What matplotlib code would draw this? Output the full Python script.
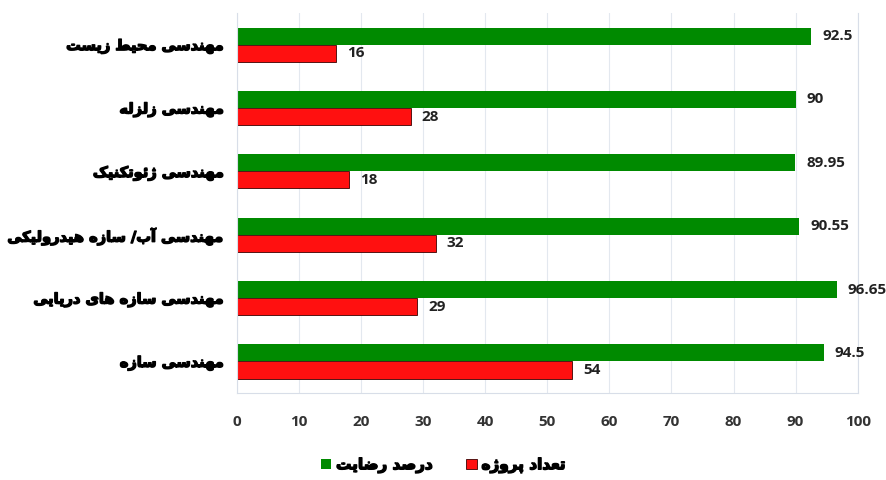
import numpy as np
import matplotlib
matplotlib.use("Agg")
import matplotlib.pyplot as plt
import matplotlib.patheffects as pe

# data (top to bottom, as in the picture)
categories = ["مهندسی محیط زیست", "مهندسی زلزله", "مهندسی ژئوتکنیک",
              "مهندسی آب/ سازه هیدرولیکی", "مهندسی سازه های دریایی", "مهندسی سازه"]
satisfaction = [92.5, 90, 89.95, 90.55, 96.65, 94.5]
projects = [16, 28, 18, 32, 29, 54]
series_names = ["درصد رضایت", "تعداد پروژه"]
x_ticks = list(range(0, 101, 10))

# Persian letters -> presentation forms (isolated, final, initial, medial)
FORMS = {
    "ا": ("\uFE8D", "\uFE8E", None, None),
    "آ": ("\uFE81", "\uFE82", None, None),
    "ب": ("\uFE8F", "\uFE90", "\uFE91", "\uFE92"),
    "پ": ("\uFB56", "\uFB57", "\uFB58", "\uFB59"),
    "ت": ("\uFE95", "\uFE96", "\uFE97", "\uFE98"),
    "ح": ("\uFEA1", "\uFEA2", "\uFEA3", "\uFEA4"),
    "د": ("\uFEA9", "\uFEAA", None, None),
    "ر": ("\uFEAD", "\uFEAE", None, None),
    "ز": ("\uFEAF", "\uFEB0", None, None),
    "ژ": ("\uFB8A", "\uFB8B", None, None),
    "س": ("\uFEB1", "\uFEB2", "\uFEB3", "\uFEB4"),
    "ص": ("\uFEB9", "\uFEBA", "\uFEBB", "\uFEBC"),
    "ض": ("\uFEBD", "\uFEBE", "\uFEBF", "\uFEC0"),
    "ط": ("\uFEC1", "\uFEC2", "\uFEC3", "\uFEC4"),
    "ع": ("\uFEC9", "\uFECA", "\uFECB", "\uFECC"),
    "ک": ("\uFB8E", "\uFB8F", "\uFB90", "\uFB91"),
    "ل": ("\uFEDD", "\uFEDE", "\uFEDF", "\uFEE0"),
    "م": ("\uFEE1", "\uFEE2", "\uFEE3", "\uFEE4"),
    "ن": ("\uFEE5", "\uFEE6", "\uFEE7", "\uFEE8"),
    "ه": ("\uFEE9", "\uFEEA", "\uFEEB", "\uFEEC"),
    "و": ("\uFEED", "\uFEEE", None, None),
    "ی": ("\uFBFC", "\uFBFD", "\uFBFE", "\uFBFF"),
    "ئ": ("\uFE89", "\uFE8A", "\uFE8B", "\uFE8C"),
}


def dual(c):
    return c in FORMS and FORMS[c][2] is not None


def shape(text):
    out = []
    for i, c in enumerate(text):
        if c not in FORMS:
            out.append(c)
            continue
        prev = text[i - 1] if i > 0 else ""
        nxt = text[i + 1] if i + 1 < len(text) else ""
        join_prev = dual(prev)
        join_next = dual(c) and nxt in FORMS
        iso, fin, ini, med = FORMS[c]
        if join_prev and join_next:
            out.append(med)
        elif join_prev:
            out.append(fin)
        elif join_next:
            out.append(ini)
        else:
            out.append(iso)
    return "".join(out)[::-1]


plt.rcParams["font.family"] = ["DejaVu Sans"]
heavy = [pe.withStroke(linewidth=1.0, foreground="black")]

fig = plt.figure(figsize=(8.86, 4.8), dpi=100)
ax = fig.add_axes([0.2675, 0.181, 0.7005, 0.792])

y = np.arange(len(categories))
h = 0.27
green = ax.barh(y - h / 2, satisfaction, height=h, color="#008a00", label=shape(series_names[0]))
red = ax.barh(y + h / 2, projects, height=h, color="#ff1010", edgecolor="#3a0000",
              linewidth=0.6, label=shape(series_names[1]))

num_font = dict(family="Open Sans", fontsize=11, fontweight="bold", color="#222222")
ax.bar_label(green, labels=[f"{v:g}" for v in satisfaction], padding=8, **num_font)
ax.bar_label(red, labels=[f"{v:g}" for v in projects], padding=8, **num_font)

ax.set_xlim(0, 100)
ax.set_ylim(len(categories) - 0.5, -0.5)
ax.set_xticks(x_ticks)
ax.set_xticklabels([str(t) for t in x_ticks], family="Open Sans", fontsize=11,
                   fontweight="bold", color="#333333")
ax.set_yticks(y)
ax.set_yticklabels([shape(c) for c in categories], fontsize=10.5, fontweight="bold", color="black")
for t in ax.get_yticklabels():
    t.set_path_effects(heavy)
ax.tick_params(length=0, axis="both")
ax.tick_params(axis="x", pad=16)
ax.tick_params(axis="y", pad=9)
ax.xaxis.grid(True, color="#e3e8ef", linewidth=0.8)
ax.set_axisbelow(True)
for s in ax.spines.values():
    s.set_color("#d8dee8")
    s.set_linewidth(0.8)
ax.spines["top"].set_visible(False)

leg = fig.legend(handles=[green, red], loc="lower center", bbox_to_anchor=(0.5, -0.015), ncol=2,
                 frameon=False, handlelength=0.7, handleheight=0.7, handletextpad=0.3,
                 columnspacing=2.2, prop=dict(family="DejaVu Sans", size=11, weight="bold"))
for t in leg.get_texts():
    t.set_path_effects(heavy)

fig.savefig("out.png", dpi=100, facecolor="white")
